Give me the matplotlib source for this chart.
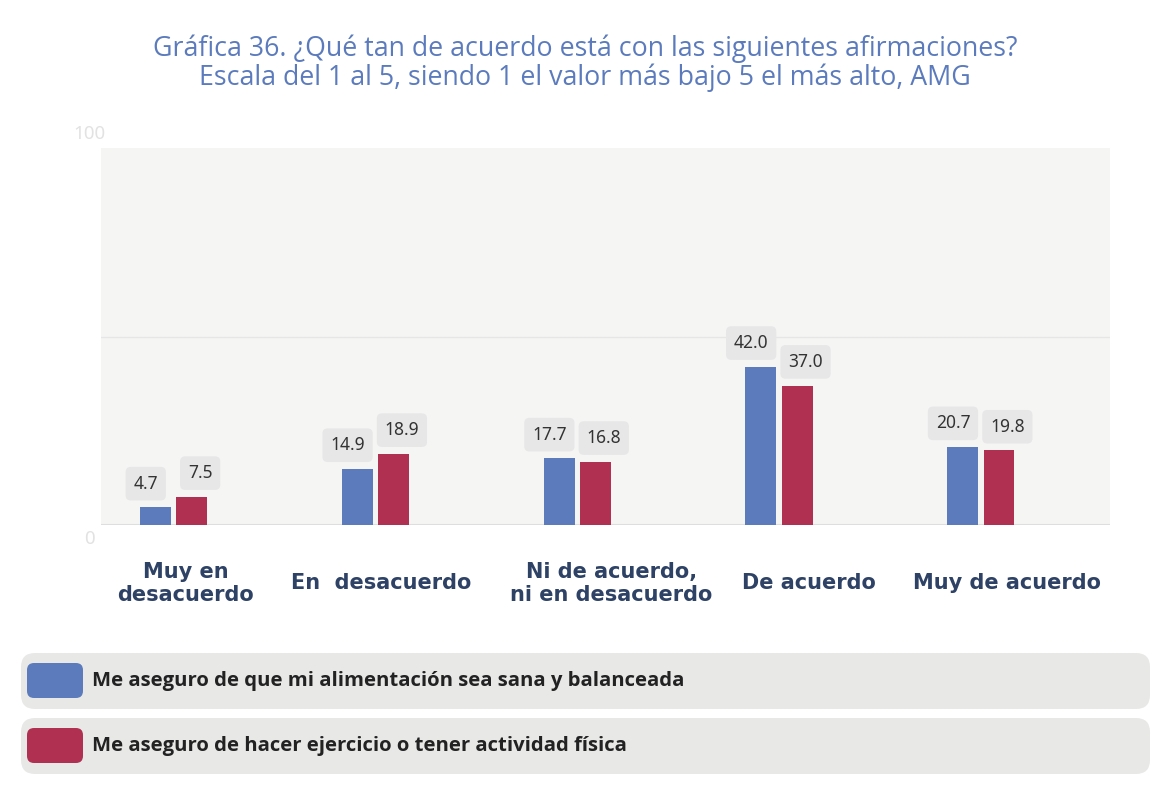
import numpy as np
import matplotlib.pyplot as plt
from matplotlib.patches import FancyBboxPatch

# datos
categorias = ["Muy en\ndesacuerdo", "En  desacuerdo", "Ni de acuerdo,\nni en desacuerdo",
              "De acuerdo", "Muy de acuerdo"]
alimentacion = [4.7, 14.9, 17.7, 42.0, 20.7]
ejercicio = [7.5, 18.9, 16.8, 37.0, 19.8]
series = ["Me aseguro de que mi alimentación sea sana y balanceada",
          "Me aseguro de hacer ejercicio o tener actividad física"]
titulo = ("Gráfica 36. ¿Qué tan de acuerdo está con las siguientes afirmaciones?\n"
          "Escala del 1 al 5, siendo 1 el valor más bajo 5 el más alto, AMG")

AZUL = "#5b7bbd"
ROJO = "#b03052"
W, H = 1170, 806

fig = plt.figure(figsize=(W / 100, H / 100), dpi=100)
ax = fig.add_axes([101 / W, 1 - 525 / H, (1110 - 101) / W, (525 - 148) / H])
ax.set_facecolor("#f5f5f4")
ax.set_xlim(0, 5)
ax.set_ylim(0, 100)
for s in ax.spines.values():
    s.set_visible(False)
ax.set_xticks([])
ax.set_yticks([])
ax.axhline(50, color="#e6e6e6", lw=1, zorder=1)
ax.axhline(0, color="#dedede", lw=1.5, zorder=1)

x = np.arange(len(categorias)) + 0.36
ancho = 0.153
sep = 0.09
for xs, vals, col, dx in [(x - sep, alimentacion, AZUL, -7), (x + sep, ejercicio, ROJO, 6)]:
    ax.bar(xs, vals, width=ancho, color=col, zorder=2)
    for xi, v in zip(xs, vals):
        ax.annotate(f"{v:.1f}", (xi, v), xytext=(dx, 17), textcoords="offset points",
                    ha="center", va="center", fontsize=12.5, color="#333333",
                    family="Noto Sans",
                    bbox=dict(boxstyle="round,pad=0.45,rounding_size=0.3",
                              fc="#e7e7e8", ec="none"))

# etiquetas del eje (100 arriba, 0 abajo)
fig.text(89 / W, 1 - 134 / H, "100", ha="center", va="center", fontsize=13.5,
         color="#e2e2e2", family="Noto Sans")
fig.text(89 / W, 1 - 539 / H, "0", ha="center", va="center", fontsize=13.5,
         color="#e2e2e2", family="Noto Sans")

pos_etiquetas = [0.42, 1.39, 2.53, 3.51, 4.49]
for px, cat in zip(pos_etiquetas, categorias):
    ax.text(px, -15.5, cat, ha="center", va="center", fontsize=15,
            fontweight="bold", color="#2e4266", family="DejaVu Sans",
            linespacing=1.2, transform=ax.transData, clip_on=False)

fig.text(0.5, 1 - 63 / H, titulo, ha="center", va="center", fontsize=19.3,
         color="#5b7bbd", family="Open Sans", linespacing=1.0)

# leyenda
for k, (txt, col) in enumerate(zip(series, [AZUL, ROJO])):
    y0 = 1 - (709 + 65 * k) / H
    fig.patches.append(FancyBboxPatch((21 / W, y0), (1150 - 21) / W, 56 / H,
                                      boxstyle="round,pad=0,rounding_size=0.012",
                                      fc="#e8e8e7", ec="none",
                                      transform=fig.transFigure, figure=fig,
                                      mutation_aspect=W / H))
    fig.patches.append(FancyBboxPatch((27 / W, y0 + 11 / H), 56 / W, 35 / H,
                                      boxstyle="round,pad=0,rounding_size=0.006",
                                      fc=col, ec="none",
                                      transform=fig.transFigure, figure=fig,
                                      mutation_aspect=W / H))
    fig.text(92 / W, y0 + 28 / H, txt, ha="left", va="center", fontsize=14.6,
             fontweight="bold", color="#222222", family="Open Sans")

fig.savefig("out.png", dpi=100, facecolor="white")
